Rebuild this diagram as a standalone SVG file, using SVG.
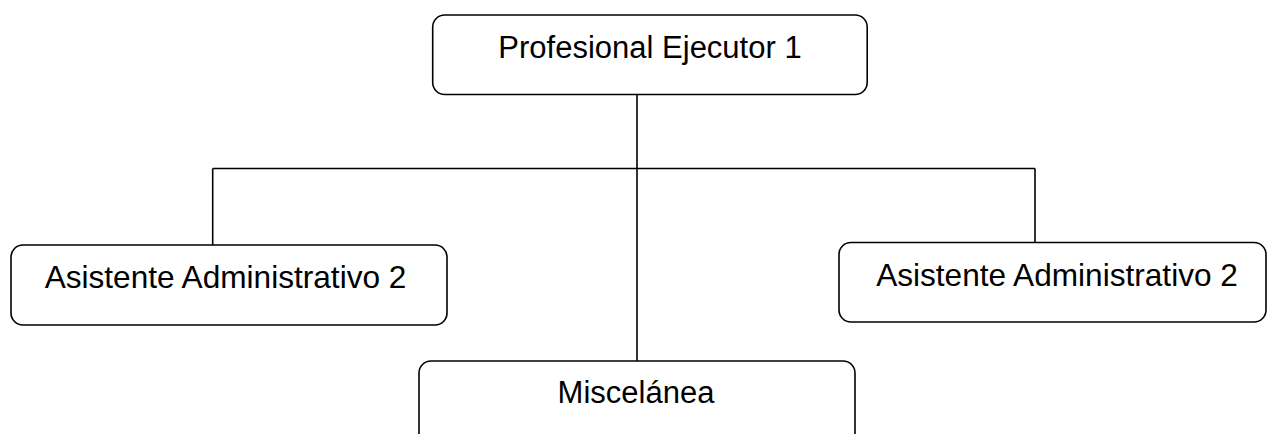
<svg xmlns="http://www.w3.org/2000/svg" width="1267" height="434" viewBox="0 0 1267 434">
<style>
.box{fill:#fff;stroke:#000;stroke-width:1.6}
.lbl{font-family:"Liberation Sans",Arial,sans-serif;font-size:31px;fill:#000;text-anchor:middle}
.wide{font-size:31.6px}
.con{stroke:#000;stroke-width:1.6;fill:none}
</style>
<rect width="1267" height="434" fill="#fff"/>
<g id="connectors">
<line class="con" x1="637" y1="94.5" x2="637" y2="361"/>
<line class="con" x1="212.7" y1="168.5" x2="1035" y2="168.5"/>
<line class="con" x1="212.7" y1="168.5" x2="212.7" y2="245"/>
<line class="con" x1="1035" y1="168.5" x2="1035" y2="242.5"/>
</g>
<g id="n1">
<rect class="box" x="432.7" y="15" width="434.5" height="79.5" rx="12"/>
<text class="lbl" x="650" y="58">Profesional Ejecutor 1</text>
</g>
<g id="n2">
<rect class="box" x="11" y="245" width="436" height="80" rx="12"/>
<text class="lbl wide" x="225.5" y="288.3">Asistente Administrativo 2</text>
</g>
<g id="n3">
<rect class="box" x="839" y="242.5" width="427" height="79.5" rx="12"/>
<text class="lbl wide" x="1057" y="286">Asistente Administrativo 2</text>
</g>
<g id="n4">
<rect class="box" x="419" y="361" width="436" height="85" rx="12"/>
<text class="lbl" x="636" y="403">Miscelánea</text>
</g>
</svg>
